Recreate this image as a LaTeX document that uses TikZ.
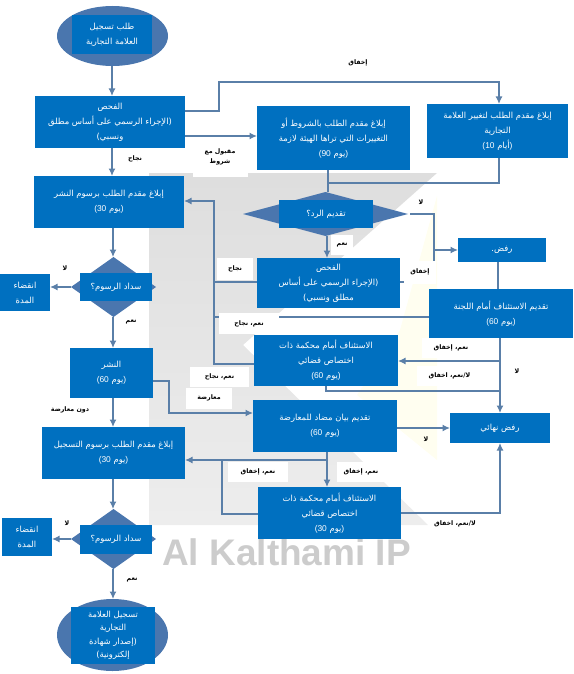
\documentclass[tikz,border=0pt]{standalone}
\usepackage{fontspec}
\usetikzlibrary{shapes.geometric,arrows.meta}
\TeXXeTstate=1
\setmainfont[Script=Arabic]{DejaVu Sans}
\newfontfamily\wmfont{Liberation Sans}
\newcommand{\ar}[1]{\beginR #1\endR}
\newcommand{\days}[2]{{\wmfont(#1} \ar{#2}{\wmfont)}}
\definecolor{boxblue}{HTML}{0070C0}
\definecolor{shapeblue}{HTML}{4A76AE}
\definecolor{linkblue}{HTML}{5A7FA8}
\tikzset{
  flowbox/.style={fill=boxblue,text=white,inner sep=0pt,outer sep=0pt,align=center,font=\fontsize{8.4}{15}\selectfont},
  flowdia/.style={diamond,fill=shapeblue,inner sep=0pt,outer sep=0pt},
  flowoval/.style={ellipse,fill=shapeblue,inner sep=0pt,outer sep=0pt},
  link/.style={linkblue,line width=1.4pt},
  linkarrow/.style={link,-{Latex[length=7.5pt,width=7pt]}},
  tag/.style={font=\fontsize{6.3}{10}\bfseries\selectfont,inner sep=0pt,align=center},
  patch/.style={tag,fill=white}
}
\begin{document}
\begin{tikzpicture}[x=1pt,y=-1pt]
\path[use as bounding box] (0,0) rectangle (573,674);
% watermark
\fill[yellow!6] (437,196) -- (437,460) -- (357,395) -- (400,330) -- cycle;
\shade[top color=black!13,bottom color=black!7] (149,173) -- (437,173) -- (243,345) -- (428,525) -- (149,525) -- cycle;
\node[inner sep=0pt,text=black!20,font=\wmfont\fontsize{37}{40}\bfseries\selectfont,anchor=base west] (wmark) at (162,565) {Al Kalthami IP};
% ovals and diamonds
\node[flowoval,minimum width=111,minimum height=60] (startoval) at (112.5,36) {};
\node[flowdia,minimum width=165,minimum height=44] (replydia) at (325.5,214) {};
\node[flowdia,minimum width=85,minimum height=60] (feesdia) at (113.5,287) {};
\node[flowdia,minimum width=85,minimum height=60] (feesdiab) at (113.5,539) {};
\node[flowoval,minimum width=111,minimum height=72] (endoval) at (112.5,635) {};
% boxes
\node[flowbox,minimum width=80,minimum height=39] (start) at (112,34.5) {\ar{طلب تسجيل}\\\ar{العلامة التجارية}};
\node[flowbox,minimum width=150,minimum height=52] (exam) at (110,122) {\ar{الفحص}\\\ar{(الإجراء الرسمي على أساس مطلق}\\\ar{ونسبي)}};
\node[flowbox,minimum width=150,minimum height=52] (pubnote) at (109,202) {\ar{إبلاغ مقدم الطلب برسوم النشر}\\\days{30}{يوم}};
\node[flowbox,minimum width=153,minimum height=64] (cond) at (333.5,138) {\ar{إبلاغ مقدم الطلب بالشروط أو}\\\ar{التغييرات التي تراها الهيئة لازمة}\\\days{90}{يوم}};
\node[flowbox,minimum width=141,minimum height=54] (change) at (497.5,131) {\ar{إبلاغ مقدم الطلب لتغيير العلامة}\\\ar{التجارية}\\\days{10}{أيام}};
\node[flowbox,minimum width=94,minimum height=28] (reply) at (326,214) {\ar{تقديم الرد؟}};
\node[flowbox,minimum width=88,minimum height=24] (reject) at (502,250) {\ar{رفض.}};
\node[flowbox,minimum width=143,minimum height=50] (examb) at (328.5,283) {\ar{الفحص}\\\ar{(الإجراء الرسمي على أساس}\\\ar{مطلق ونسبي)}};
\node[flowbox,minimum width=144,minimum height=49] (committee) at (501,313.5) {\ar{تقديم الاستئناف أمام اللجنة}\\\days{60}{يوم}};
\node[flowbox,minimum width=144,minimum height=51] (court) at (326,360.5) {\ar{الاستئناف أمام محكمة ذات}\\\ar{اختصاص قضائي}\\\days{60}{يوم}};
\node[flowbox,minimum width=144,minimum height=52] (counter) at (325,426) {\ar{تقديم بيان مضاد للمعارضة}\\\days{60}{يوم}};
\node[flowbox,minimum width=100,minimum height=30] (final) at (500,428) {\ar{رفض نهائي}};
\node[flowbox,minimum width=143,minimum height=52] (courtb) at (329.5,513) {\ar{الاستئناف أمام محكمة ذات}\\\ar{اختصاص قضائي}\\\days{30}{يوم}};
\node[flowbox,minimum width=72,minimum height=28] (fees) at (116,287) {\ar{سداد الرسوم؟}};
\node[flowbox,minimum width=50,minimum height=37] (expire) at (25,292.5) {\ar{انقضاء}\\\ar{المدة}};
\node[flowbox,minimum width=83,minimum height=50] (publish) at (111.5,373) {\ar{النشر}\\\days{60}{يوم}};
\node[flowbox,minimum width=143,minimum height=52] (regnote) at (113.5,453) {\ar{إبلاغ مقدم الطلب برسوم التسجيل}\\\days{30}{يوم}};
\node[flowbox,minimum width=72,minimum height=29] (feesb) at (116,539.5) {\ar{سداد الرسوم؟}};
\node[flowbox,minimum width=50,minimum height=38] (expireb) at (27,537) {\ar{انقضاء}\\\ar{المدة}};
\node[flowbox,font=\fontsize{8.4}{13.5}\selectfont,minimum width=84,minimum height=57] (finish) at (113,635.5) {\ar{تسجيل العلامة}\\\ar{التجارية}\\\ar{(إصدار شهادة}\\\ar{إلكترونية)}};
% left column
\draw[linkarrow] (112,66) -- (112,96);
\draw[linkarrow] (112,148) -- (112,176);
\draw[linkarrow] (113,228) -- (113,257);
\draw[linkarrow] (71,287) -- (50,287);
\draw[linkarrow] (113,317) -- (113,348);
\draw[linkarrow] (113,398) -- (113,427);
\draw[linkarrow] (113,479) -- (113,509);
\draw[linkarrow] (71,539) -- (52,539);
\draw[linkarrow] (113,569) -- (113,599);
\draw[linkarrow] (153,381) -- (169,381) -- (169,413) -- (253,413);
% top right
\draw[linkarrow] (185,111) -- (219,111) -- (219,82) -- (499,82) -- (499,104);
\draw[linkarrow] (185,136) -- (257,136);
\draw[link] (328,170) -- (328,192);
\draw[link] (499,158) -- (499,183) -- (328,183);
\draw[linkarrow] (327,236) -- (327,258);
\draw[link] (410,214) -- (434,214) -- (434,282) -- (400,282);
\draw[linkarrow] (434,250) -- (458,250);
\draw[link] (498,262) -- (498,289);
% return line
\draw[linkarrow] (254,364) -- (214,364) -- (214,201) -- (184,201);
\draw[link] (257,282) -- (214,282);
\draw[link] (429,317) -- (214,317);
% lower right
\draw[linkarrow] (500,338) -- (500,413);
\draw[linkarrow] (500,361) -- (398,361);
\draw[link] (326,386) -- (326,391) -- (500,391);
\draw[linkarrow] (397,428) -- (450,428);
\draw[linkarrow] (327,452) -- (327,487);
\draw[linkarrow] (327,460) -- (185,460);
\draw[link] (258,514) -- (222,514) -- (222,460);
\draw[linkarrow] (401,513) -- (500,513) -- (500,443);
% labels
\node[tag] (tagfail) at (358,63) {\ar{إخفاق}};
\fill[white] (193,148) rectangle (248,177);
\node[tag] (tagcond) at (220,157) {\ar{مقبول مع}\\\ar{شروط}};
\node[tag] (tagpass) at (135,159) {\ar{نجاح}};
\node[tag] (tagno) at (65,268) {\ar{لا}};
\node[tag] (tagyes) at (131,322) {\ar{نعم}};
\node[tag] (tagnoopp) at (70,410) {\ar{دون معارضة}};
\node[patch,minimum width=22,minimum height=20] (tagyesb) at (342,245) {\ar{نعم}};
\node[tag] (tagnob) at (421,202) {\ar{لا}};
\node[patch,minimum width=36,minimum height=22] (tagpassb) at (235,269) {\ar{نجاح}};
\node[patch,minimum width=32,minimum height=23] (tagfailb) at (420,272) {\ar{إخفاق}};
\node[patch,minimum width=60,minimum height=21] (tagpassc) at (249,323.5) {\ar{نعم، نجاح}};
\node[patch,minimum width=58,minimum height=20] (tagfailc) at (451,348) {\ar{نعم، إخفاق}};
\node[patch,minimum width=65,minimum height=20] (tagfaild) at (449.5,376) {\ar{لا/نعم، اخفاق}};
\node[tag] (tagnoc) at (517,371) {\ar{لا}};
\node[patch,minimum width=59,minimum height=20] (tagpassd) at (219.5,377) {\ar{نعم، نجاح}};
\node[patch,minimum width=46,minimum height=21] (tagopp) at (209,398) {\ar{معارضة}};
\node[tag] (tagnod) at (426,439) {\ar{لا}};
\node[patch,minimum width=60,minimum height=20] (tagfaile) at (258,472) {\ar{نعم، إخفاق}};
\node[patch,minimum width=48,minimum height=20] (tagfailf) at (361,472) {\ar{نعم، إخفاق}};
\node[tag] (tagfailg) at (455,524) {\ar{لا/نعم، اخفاق}};
\node[tag] (tagnoe) at (67,523) {\ar{لا}};
\node[tag] (tagyesc) at (132,580) {\ar{نعم}};
\end{tikzpicture}
\end{document}
